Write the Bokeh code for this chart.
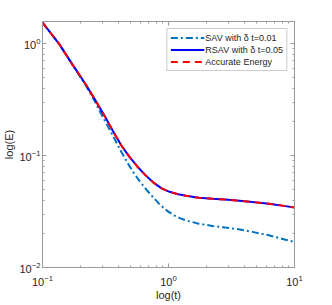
from bokeh.plotting import figure
from bokeh.models import LogAxis, Legend, LegendItem, Range1d, FixedTicker, LogTickFormatter
from bokeh.embed import file_html
from bokeh.resources import INLINE

# data
t_acc = [0.1, 0.1359, 0.1714, 0.2200, 0.2628, 0.3086, 0.3622, 0.4251, 0.4903, 0.5655, 0.6521,
         0.7655, 0.8827, 1.018, 1.195, 1.378, 1.737, 2.229, 2.811, 3.479, 4.628, 6.265, 8.479, 10.0]
e_acc = [1.537, 0.9858, 0.6574, 0.4320, 0.3114, 0.2291, 0.1651, 0.1215, 0.0970, 0.0798, 0.0671,
         0.0569, 0.0509, 0.0474, 0.0450, 0.0437, 0.0419, 0.0411, 0.0404, 0.0396, 0.0384, 0.0371, 0.0353, 0.0343]
t_rsav = t_acc
e_rsav = e_acc
t_sav = [0.1, 0.1359, 0.1714, 0.2200, 0.2537, 0.2874, 0.3313, 0.3754, 0.4251, 0.4732, 0.5361, 0.5965,
         0.6758, 0.7655, 0.8519, 0.9650, 1.093, 1.216, 1.378, 1.737, 2.229, 2.811, 3.479, 4.628, 6.265, 8.479, 10.0]
e_sav = [1.537, 0.9858, 0.6574, 0.4231, 0.3211, 0.2435, 0.1810, 0.1388, 0.1063, 0.0858, 0.0685, 0.0581,
         0.0487, 0.0417, 0.0365, 0.0324, 0.0294, 0.0277, 0.0263, 0.0246, 0.0235, 0.0227, 0.0221, 0.0208, 0.0194, 0.0177, 0.0169]
labels = ["SAV with δ t=0.01", "RSAV with δ t=0.05", "Accurate Energy"]
x_major = [0.1, 1, 10]
x_minor = [0.2, 0.3, 0.4, 0.5, 0.6, 0.7, 0.8, 0.9, 2, 3, 4, 5, 6, 7, 8, 9]
y_major = [0.01, 0.1, 1]
y_minor = [0.02, 0.03, 0.04, 0.05, 0.06, 0.07, 0.08, 0.09, 0.2, 0.3, 0.4, 0.5, 0.6, 0.7, 0.8, 0.9]

font = "Liberation Sans"
axis_col = "#9a9a9a"
text_col = "#262626"

p = figure(width=316, height=303, x_axis_type="log", y_axis_type="log",
           x_range=Range1d(0.1, 10), y_range=Range1d(0.01, 1.57),
           output_backend="svg", toolbar_location=None,
           min_border_left=35, min_border_right=22, min_border_top=21, min_border_bottom=28)
p.xgrid.visible = False
p.ygrid.visible = False
p.outline_line_color = axis_col

r_sav = p.line(t_sav, e_sav, line_color="#0072BD", line_width=2, line_dash="7 3 2 3")
r_rsav = p.line(t_rsav, e_rsav, line_color="#0000FF", line_width=2)
r_acc = p.line(t_acc, e_acc, line_color="#FF0000", line_width=2, line_dash="7 5")

def style(ax):
    ax.axis_line_color = axis_col
    ax.major_tick_line_color = axis_col
    ax.minor_tick_line_color = axis_col
    ax.major_tick_in = 4
    ax.major_tick_out = 0
    ax.minor_tick_in = 2
    ax.minor_tick_out = 0
    ax.major_label_text_font = font
    ax.major_label_text_font_size = "11px"
    ax.major_label_text_color = text_col
    ax.axis_label_text_font = font
    ax.axis_label_text_font_size = "11px"
    ax.axis_label_text_font_style = "normal"
    ax.axis_label_text_color = text_col
    ax.major_label_standoff = 2
    ax.axis_label_standoff = 1

xt = FixedTicker(ticks=x_major, minor_ticks=x_minor)
yt = FixedTicker(ticks=y_major, minor_ticks=y_minor)

p.xaxis.axis_label = "log(t)"
p.yaxis.axis_label = "log(E)"
for ax in p.xaxis:
    style(ax)
    ax.ticker = xt
    ax.formatter = LogTickFormatter()
    ax.major_label_standoff = 7
    ax.axis_label_standoff = 0
for ax in p.yaxis:
    style(ax)
    ax.ticker = yt
    ax.formatter = LogTickFormatter()

top = LogAxis(ticker=FixedTicker(ticks=x_major, minor_ticks=x_minor), major_label_text_alpha=0)
right = LogAxis(ticker=FixedTicker(ticks=y_major, minor_ticks=y_minor), major_label_text_alpha=0)
for ax in (top, right):
    style(ax)
    ax.major_label_standoff = 0
    ax.major_label_text_font_size = "1px"
p.add_layout(top, "above")
p.add_layout(right, "right")

legend = Legend(items=[LegendItem(label=labels[0], renderers=[r_sav]),
                       LegendItem(label=labels[1], renderers=[r_rsav]),
                       LegendItem(label=labels[2], renderers=[r_acc])],
                location="top_right")
legend.label_text_font = font
legend.label_text_font_size = "9px"
legend.label_text_color = text_col
legend.border_line_color = axis_col
legend.glyph_width = 34
legend.glyph_height = 11
legend.label_height = 11
legend.label_standoff = 1
legend.spacing = 1
legend.padding = 3
legend.margin = 7
p.add_layout(legend)

open("out.html", "w").write(file_html(p, INLINE))
